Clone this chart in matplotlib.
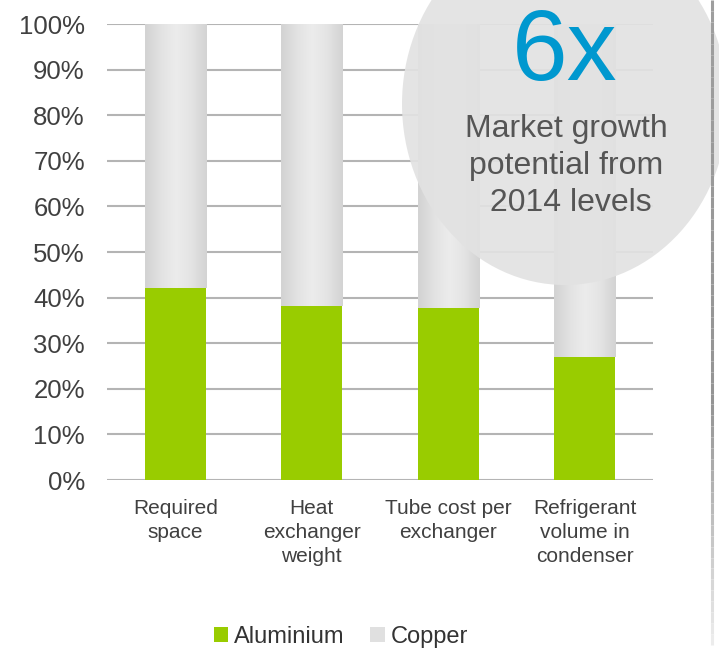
import matplotlib
matplotlib.use('Agg')
import matplotlib.pyplot as plt
import numpy as np
from matplotlib.patches import Ellipse, Patch
from matplotlib.collections import LineCollection
from matplotlib.colors import LinearSegmentedColormap

plt.rcParams['font.family'] = ['Liberation Sans', 'DejaVu Sans']

categories = ['Required\nspace', 'Heat\nexchanger\nweight',
              'Tube cost per\nexchanger', 'Refrigerant\nvolume in\ncondenser']
aluminium = [42.0, 38.2, 37.8, 27.0]
copper = [58.0, 61.8, 62.2, 73.0]
yticks = [0, 10, 20, 30, 40, 50, 60, 70, 80, 90, 100]
series_names = ['Aluminium', 'Copper']

green = '#99cc00'
grey_grad = LinearSegmentedColormap.from_list(
    'tube', ['#d3d3d3', '#e2e2e2', '#ececec', '#e4e4e4', '#d3d3d3'])

fig = plt.figure(figsize=(7.19, 6.51), dpi=100)
ax = fig.add_axes([107 / 719, 1 - 480 / 651, 546 / 719, 456 / 651])

x = np.arange(len(categories))
width = 0.45
ax.bar(x, aluminium, width, color=green, zorder=3)
tops = ax.bar(x, copper, width, bottom=aluminium, color='#e0e0e0', zorder=3)

# horizontal shading on the copper part of each bar
grad = np.linspace(0, 1, 64).reshape(1, -1)
for rect in tops:
    x0, y0 = rect.get_x(), rect.get_y()
    ax.imshow(grad, cmap=grey_grad, aspect='auto', zorder=4,
              extent=(x0, x0 + rect.get_width(), y0, y0 + rect.get_height()))

ax.set_xlim(-0.5, len(categories) - 0.5)
ax.set_ylim(0, 100)
ax.set_yticks(yticks)
ax.set_yticklabels(['%d%%' % v for v in yticks])
ax.set_xticks(x)
ax.set_xticklabels(categories, linespacing=1.32)
ax.tick_params(axis='y', length=0, pad=16, labelsize=18.5, labelcolor='#404040')
ax.tick_params(axis='x', length=0, pad=14, labelsize=15, labelcolor='#404040')
ax.yaxis.grid(True, color='#b4b4b4', linewidth=1.5, zorder=0)
for s in ax.spines.values():
    s.set_visible(False)

handles = [Patch(facecolor=green, edgecolor='none'),
           Patch(facecolor='#e0e0e0', edgecolor='none')]
fig.legend(handles, series_names, loc='center', bbox_to_anchor=(0.474, 0.022),
           ncol=2, frameon=False, fontsize=17, handlelength=0.6,
           handleheight=0.6, handletextpad=0.25, columnspacing=1.1,
           labelcolor='#333333')

# callout bubble over the right-hand bars
bubble = Ellipse((565 / 719, 1 - 104 / 651), 326 / 719, 362 / 651,
                 transform=fig.transFigure, facecolor='#e2e2e2',
                 edgecolor='none', alpha=0.92, zorder=10)
fig.add_artist(bubble)
fig.text(565 / 719, 1 - 54 / 651, '6x', ha='center', va='center',
         fontsize=72, color='#0098cf', zorder=11)
fig.text(566 / 719, 1 - 166 / 651, 'Market growth\npotential from\n 2014 levels',
         ha='center', va='center', fontsize=23, color='#555555',
         linespacing=1.3, zorder=11)

# thin fading rule on the right edge
ys = np.linspace(0, 645, 60)
pts = np.array([[712 / 719, 1 - y / 651] for y in ys])
segs = np.stack([pts[:-1], pts[1:]], axis=1)
shade = np.interp(ys[:-1], [0, 400, 645], [0.62, 0.58, 0.94])
rule = LineCollection(segs, colors=[(c, c, c) for c in shade], linewidths=2.2,
                      transform=fig.transFigure, zorder=12)
fig.add_artist(rule)

fig.savefig('out.png', dpi=100)
